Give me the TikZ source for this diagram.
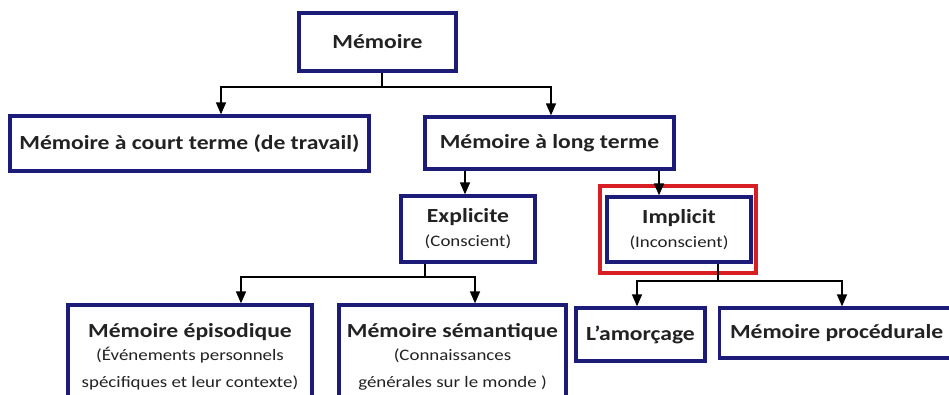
\documentclass[tikz,border=0pt]{standalone}
\usepackage{fontspec}
\setmainfont{Carlito}[FakeStretch=1.18]
\usetikzlibrary{arrows.meta}
\definecolor{navy}{RGB}{28,28,120}
\definecolor{txt}{RGB}{34,34,34}
\definecolor{redbox}{RGB}{215,30,35}
\newcommand\subfnt{\fontsize{16}{18}\selectfont\mdseries}
\newcommand\subfntb{\fontsize{16}{27}\selectfont\mdseries}
\begin{document}
\begin{tikzpicture}[x=1pt,y=-1pt,
  box/.style={draw=navy,line width=3.3pt,fill=white,inner sep=0pt,text=txt,align=center,font=\fontsize{20}{24}\selectfont\bfseries},
  conn/.style={line width=1.6pt,draw=black},
  arr/.style={conn,-{Triangle[width=10pt,length=12pt]}}]
\useasboundingbox (0,0) rectangle (949,395);
\clip (0,0) rectangle (949,395);
\node[box,minimum width=157pt,minimum height=58pt] (mem) at (377.5,42) {Mémoire};
\node[box,minimum width=359pt,minimum height=55pt] (court) at (189.5,143.5) {Mémoire à court terme (de travail)};
\node[box,minimum width=249pt,minimum height=52pt] (long) at (549.5,143) {Mémoire à long terme};
\node[box,minimum width=134pt,minimum height=66pt] (expl) at (468,229) {Explicite\\[0pt]\subfnt(Conscient)};
\draw[redbox,line width=3.3pt] (600,186) rectangle (756,273);
\node[box,minimum width=144pt,minimum height=65pt] (impl) at (679,229.5) {Implicit\\[0pt]\subfnt(Inconscient)};
\node[box,minimum width=244pt,minimum height=104pt,font=\fontsize{20}{27}\selectfont\bfseries] (epi) at (190,357) {Mémoire épisodique\\[-4pt]\subfntb(Événements personnels\\\subfntb spécifiques et leur contexte)};
\node[box,minimum width=227pt,minimum height=104pt,font=\fontsize{20}{27}\selectfont\bfseries] (sem) at (452.5,357) {Mémoire sémantique\\[-4pt]\subfntb(Connaissances\\\subfntb générales sur le monde )};
\node[box,minimum width=129pt,minimum height=53pt] (amor) at (640.5,334.5) {L’amorçage};
\node[box,minimum width=246pt,minimum height=50pt,anchor=west] (proc) at (718,333) {\hspace*{-12pt}Mémoire procédurale};
% connectors
\coordinate (j1) at (382,87);
\draw[conn] (mem.south -| j1) -- (j1);
\draw[arr] (j1) -| (court.north -| 221,0);
\draw[arr] (j1) -| (long.north -| 551,0);
\draw[arr] (long.south -| 465,0) -- (expl.north -| 465,0);
\draw[arr] (long.south -| 659,0) -- (impl.north -| 659,0);
\coordinate (j2) at (425,277);
\draw[conn] (expl.south -| j2) -- (j2);
\draw[arr] (j2) -| (epi.north -| 241,0);
\draw[arr] (j2) -| (sem.north -| 475,0);
\coordinate (j3) at (718,281);
\draw[conn] (impl.south -| j3) -- (j3);
\draw[arr] (j3) -| (amor.north -| 637,0);
\draw[arr] (j3) -| (proc.north -| 842,0);
\end{tikzpicture}
\end{document}
